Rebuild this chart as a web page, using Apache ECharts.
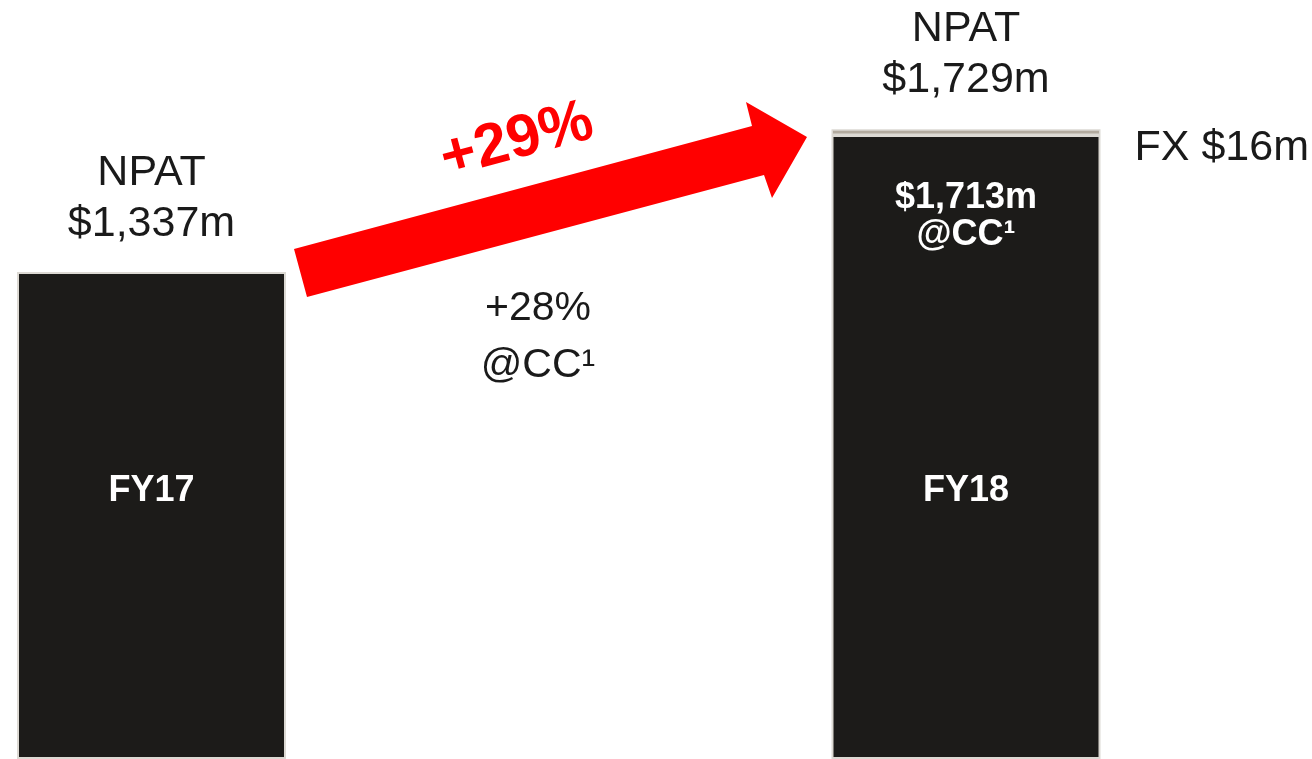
<!DOCTYPE html>
<html>
<head>
<meta charset="UTF-8">
<title>NPAT FY17 vs FY18</title>
<script src="https://cdn.jsdelivr.net/npm/echarts@6/dist/echarts.min.js"></script>
<style>
  html, body { margin: 0; padding: 0; background: #fff; }
  #main { width: 1312px; height: 759px; }
</style>
</head>
<body>
<div id="main"></div>
<script type="text/javascript">
// data
var categories = ['FY17', 'FY18'];
var ccValues = [1337, 1713];      // NPAT at constant currency (FY17 is the actual)
var fxValues = [null, 16];        // FX effect
var totalValues = [1337, 1729];   // reported NPAT
var growthLabel = '+29%';
var ccGrowthLabel = '+28%\n@CC¹';

var font = '"Liberation Sans", Arial, sans-serif';
var dark = '#1c1b19';
var edge = '#dcd9d3';

var myChart = echarts.init(document.getElementById('main'));

var option = {
    animation: false,
    grid: { left: 151.5, right: 346, top: 0, bottom: 0 },
    xAxis: {
        type: 'category',
        data: categories,
        boundaryGap: false,
        z: 10,
        axisLine: { show: false },
        axisTick: { show: false },
        axisLabel: {
            margin: -268,
            verticalAlign: 'middle',
            color: '#fff',
            fontFamily: font,
            fontWeight: 'bold',
            fontSize: 36
        }
    },
    yAxis: {
        type: 'value',
        min: 0,
        max: 2084,
        show: false,
        splitLine: { show: false }
    },
    series: [
        {
            name: 'NPAT @CC',
            type: 'bar',
            stack: 'npat',
            clip: false,
            barWidth: 269,
            itemStyle: { color: dark, borderColor: edge, borderWidth: 2 },
            data: ccValues.map(function (v, i) {
                if (i === 0) return v;
                return {
                    value: v,
                    label: {
                        show: true,
                        position: 'insideTop',
                        distance: 44,
                        formatter: '$' + v.toLocaleString('en-US') + 'm\n@CC¹',
                        color: '#fff',
                        fontFamily: font,
                        fontWeight: 'bold',
                        fontSize: 36,
                        lineHeight: 37
                    }
                };
            })
        },
        {
            name: 'FX',
            type: 'bar',
            stack: 'npat',
            clip: false,
            barWidth: 269,
            itemStyle: { color: '#b3ab9f', borderColor: edge, borderWidth: 1.5 },
            label: {
                show: true,
                position: 'right',
                distance: 34,
                offset: [0, 16],
                formatter: function (p) { return 'FX $' + p.value + 'm'; },
                color: '#1a1a1a',
                fontFamily: font,
                fontSize: 43
            },
            data: fxValues
        },
        {
            name: 'NPAT',
            type: 'bar',
            barGap: '-100%',
            clip: false,
            barWidth: 269,
            z: 1,
            itemStyle: { color: 'rgba(0,0,0,0)' },
            label: {
                show: true,
                position: 'top',
                formatter: function (p) { return 'NPAT\n$' + p.value.toLocaleString('en-US') + 'm'; },
                color: '#1a1a1a',
                fontFamily: font,
                fontSize: 43,
                lineHeight: 51
            },
            data: totalValues.map(function (v, i) {
                return { value: v, label: { distance: i === 0 ? 22 : 24 } };
            })
        }
    ],
    graphic: [
        {
            type: 'polygon',
            shape: {
                points: [[294, 249], [752, 126], [746, 102], [807, 137], [772, 198], [764, 175], [307, 297]]
            },
            style: { fill: '#ff0000' }
        },
        {
            type: 'text',
            x: 517,
            y: 141,
            rotation: 15 * Math.PI / 180,
            style: {
                text: growthLabel,
                fill: '#ff0000',
                font: 'bold 60px ' + font,
                textAlign: 'center',
                textVerticalAlign: 'middle'
            }
        },
        {
            type: 'text',
            x: 538,
            y: 337,
            style: {
                text: ccGrowthLabel,
                fill: '#1a1a1a',
                font: '41px ' + font,
                lineHeight: 57,
                textAlign: 'center',
                textVerticalAlign: 'middle'
            }
        }
    ]
};

myChart.setOption(option);
</script>
</body>
</html>
